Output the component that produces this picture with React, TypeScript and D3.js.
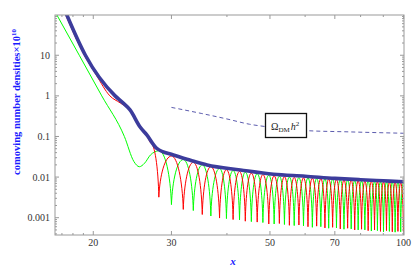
import * as d3 from 'd3';

// tick values
const xMajor = [20, 30, 50, 70, 100];
const xMinor = [17, 18, 19, 40, 60, 80, 90];
const yMajor = [0.001, 0.01, 0.1, 1, 10];
const yLabels = ['0.001', '0.01', '0.1', '1', '10'];

// total (thick blue) curve
const totalX = [17.25, 17.44, 19.2, 22.4, 23.3, 24.2, 25.5, 26.4, 27.8, 30.3, 33.1, 36.1, 42.9, 50.9, 60, 70, 80, 90, 100];
const totalY = [130, 98, 10, 1, 0.68, 0.45, 0.171, 0.109, 0.051, 0.035, 0.026, 0.0199, 0.015, 0.0117, 0.0105, 0.0093, 0.0086, 0.0081, 0.0077];

// smooth early part of red and green
const redHeadX = [17.2, 19.1, 20.3, 21.8, 23.0, 23.9, 25.5, 26.4, 26.9];
const redHeadY = [120, 10, 3.3, 1, 0.67, 0.5, 0.165, 0.105, 0.07];
const greenHeadX = [16.4, 18.6, 20.9, 23.5, 24.7, 25.4, 26.1, 26.9, 28.1];
const greenHeadY = [119, 10, 1, 0.1, 0.024, 0.018, 0.022, 0.035, 0.045];

// oscillation extrema: red dips / green crests on even index, red crests / green dips on odd
const oscX = [28.1, 30.0, 31.9, 33.6, 35.2, 36.8, 38.5, 39.9, 41.3, 42.7, 44.0, 45.4, 46.8, 48.2, 49.7, 51.1, 52.5, 53.9, 55.3, 56.7, 58.1, 59.5, 60.9, 62.3, 63.7, 65.1, 66.5, 67.8, 69.2, 70.6, 72.0, 73.4, 74.8, 76.2, 77.6, 79.0, 80.4, 81.8, 83.2, 84.6, 86.0, 87.3, 88.7, 90.1, 91.5, 92.9, 94.3, 95.7, 97.1, 98.5, 99.9];
const redOsc = [0.0032, 0.033, 0.0016, 0.023, 0.0012, 0.018, 0.00098, 0.0152, 0.0009, 0.0137, 0.00082, 0.0125, 0.00078, 0.0115, 0.0007, 0.0107, 0.00072, 0.0102, 0.00065, 0.0098, 0.00066, 0.0096, 0.0006, 0.0094, 0.00062, 0.0091, 0.00056, 0.0089, 0.00058, 0.0087, 0.00053, 0.0085, 0.00055, 0.0083, 0.0005, 0.0081, 0.00052, 0.0079, 0.00048, 0.0078, 0.0005, 0.0077, 0.00046, 0.0076, 0.00048, 0.0075, 0.00045, 0.0074, 0.00046, 0.0073, 0.00044];
const greenOsc = [0.045, 0.0021, 0.027, 0.0015, 0.02, 0.0011, 0.0163, 0.00095, 0.0145, 0.00088, 0.0132, 0.0008, 0.0121, 0.00076, 0.0111, 0.0007, 0.0105, 0.00068, 0.01, 0.00064, 0.0097, 0.00063, 0.0095, 0.00058, 0.0092, 0.0006, 0.009, 0.00055, 0.0088, 0.00056, 0.0086, 0.00052, 0.0084, 0.00053, 0.0082, 0.0005, 0.008, 0.0005, 0.0079, 0.00047, 0.0078, 0.00048, 0.0077, 0.00045, 0.0076, 0.00046, 0.0075, 0.00044, 0.0074, 0.00045, 0.0073];

// relic abundance (dashed)
const omegaX = [30, 35, 40, 45, 50, 60, 75, 100];
const omegaY = [0.52, 0.37, 0.27, 0.2, 0.17, 0.14, 0.13, 0.12];

const serif = '"Liberation Serif", "Times New Roman", serif';

// curve through crests and dips: flat over a crest, steep into a dip (like log of cos^2)
function curveSpike(context: any) {
  let px = 0, py = 0, n = 0;
  return {
    areaStart() {},
    areaEnd() {},
    lineStart() { n = 0; },
    lineEnd() {},
    point(x: number, y: number) {
      if (n === 0) context.moveTo(x, y);
      else {
        const dx = x - px, dy = y - py;
        if (dy > 0) {
          context.bezierCurveTo(px + dx * 0.5, py, px + dx * 0.92, py + dy * 0.45, x, y);
        } else {
          context.bezierCurveTo(px + dx * 0.08, py + dy * 0.55, px + dx * 0.5, y, x, y);
        }
      }
      px = x; py = y; n++;
    }
  };
}

export default function App() {
  const width = 415;
  const height = 270;
  const margin = { top: 15, right: 11, bottom: 35, left: 55 };
  const left = margin.left;
  const right = width - margin.right;
  const top = margin.top;
  const bottom = height - margin.bottom;

  const x = d3.scaleLog().domain([16.4, 100.2]).range([left, right]);
  const y = d3.scaleLog().domain([0.000375, 98]).range([bottom, top]);

  const zip = (xs: number[], ys: number[]) => xs.map((v, i) => [v, ys[i]] as [number, number]);

  const smooth = d3.line<[number, number]>()
    .x(d => x(d[0]))
    .y(d => y(d[1]))
    .curve(d3.curveMonotoneX);
  const spiky = d3.line<[number, number]>()
    .x(d => x(d[0]))
    .y(d => y(d[1]))
    .curve(curveSpike as any);

  const redHead = zip(redHeadX, redHeadY);
  const greenHead = zip(greenHeadX, greenHeadY);
  const redTail = [redHead[redHead.length - 1], ...zip(oscX, redOsc)];
  const greenTail = zip(oscX, greenOsc);

  const yTicks = y.ticks();
  const isMajor = (v: number) => Math.abs(Math.log10(v) - Math.round(Math.log10(v))) < 1e-6;

  const frame = '#9a9a9a';
  const blueLabel = '#1a1aff';

  return (
    <svg width={width} height={height} style={{ display: 'block', position: 'absolute', left: 0, top: 0 }}>
      <defs>
        <clipPath id="plot">
          <rect x={left} y={top} width={right - left} height={bottom - top} />
        </clipPath>
      </defs>
      <rect x={0} y={0} width={width} height={height} fill="white" />

      <g clipPath="url(#plot)" fill="none">
        <path d={smooth(greenHead) || ''} stroke="#00ff00" strokeWidth={1} />
        <path d={spiky(greenTail) || ''} stroke="#00ff00" strokeWidth={1} />
        <path d={smooth(redHead) || ''} stroke="#ff0000" strokeWidth={1} />
        <path d={spiky(redTail) || ''} stroke="#ff0000" strokeWidth={1} />
        <path d={smooth(zip(totalX, totalY)) || ''} stroke="#3c3c9c" strokeWidth={3.6} strokeLinejoin="round" />
        <path d={smooth(zip(omegaX, omegaY)) || ''} stroke="#5c5cae" strokeWidth={1} strokeDasharray="4,3" />
      </g>

      {/* frame */}
      <rect x={left} y={top} width={right - left} height={bottom - top} fill="none" stroke={frame} strokeWidth={1} />

      {/* x ticks, bottom and top */}
      {xMajor.map(v => (
        <g key={'xm' + v}>
          <line x1={x(v)} x2={x(v)} y1={bottom} y2={bottom - 4} stroke={frame} />
          <line x1={x(v)} x2={x(v)} y1={top} y2={top + 4} stroke={frame} />
          <text x={x(v)} y={bottom + 11} textAnchor="middle" fontFamily={serif} fontSize={10} fill="#333">{v}</text>
        </g>
      ))}
      {xMinor.map(v => (
        <g key={'xn' + v}>
          <line x1={x(v)} x2={x(v)} y1={bottom} y2={bottom - 2} stroke={frame} />
          <line x1={x(v)} x2={x(v)} y1={top} y2={top + 2} stroke={frame} />
        </g>
      ))}

      {/* y ticks, left and right */}
      {yTicks.map((v, i) => {
        const len = isMajor(v) ? 4 : 2;
        return (
          <g key={'y' + i}>
            <line x1={left} x2={left + len} y1={y(v)} y2={y(v)} stroke={frame} />
            <line x1={right} x2={right - len} y1={y(v)} y2={y(v)} stroke={frame} />
          </g>
        );
      })}
      {yMajor.map((v, i) => (
        <text key={'yl' + v} x={left - 5} y={y(v) + 3.5} textAnchor="end" fontFamily={serif} fontSize={10} fill="#333">{yLabels[i]}</text>
      ))}

      {/* legend box for the dashed curve */}
      <rect x={265.5} y={113.5} width={41} height={24} fill="white" stroke="#111" strokeWidth={1.3} />
      <text x={271} y={130} fontFamily={serif} fontSize={10} fill="#222">
        Ω<tspan fontSize={7} dy={2}>DM</tspan><tspan fontStyle="italic" dy={-2} dx={1}>h</tspan><tspan fontSize={7} dy={-4}>2</tspan>
      </text>

      {/* axis titles */}
      <text x={233} y={265} textAnchor="middle" fontFamily={serif} fontSize={11} fontWeight="bold" fontStyle="italic" fill={blueLabel}>x</text>
      <text transform="translate(20,102) rotate(-90)" textAnchor="middle" fontFamily={serif} fontSize={10.5} fontWeight="bold" fill={blueLabel}>
        comoving number densities×10<tspan fontSize={7} dy={-4}>10</tspan>
      </text>
    </svg>
  );
}
